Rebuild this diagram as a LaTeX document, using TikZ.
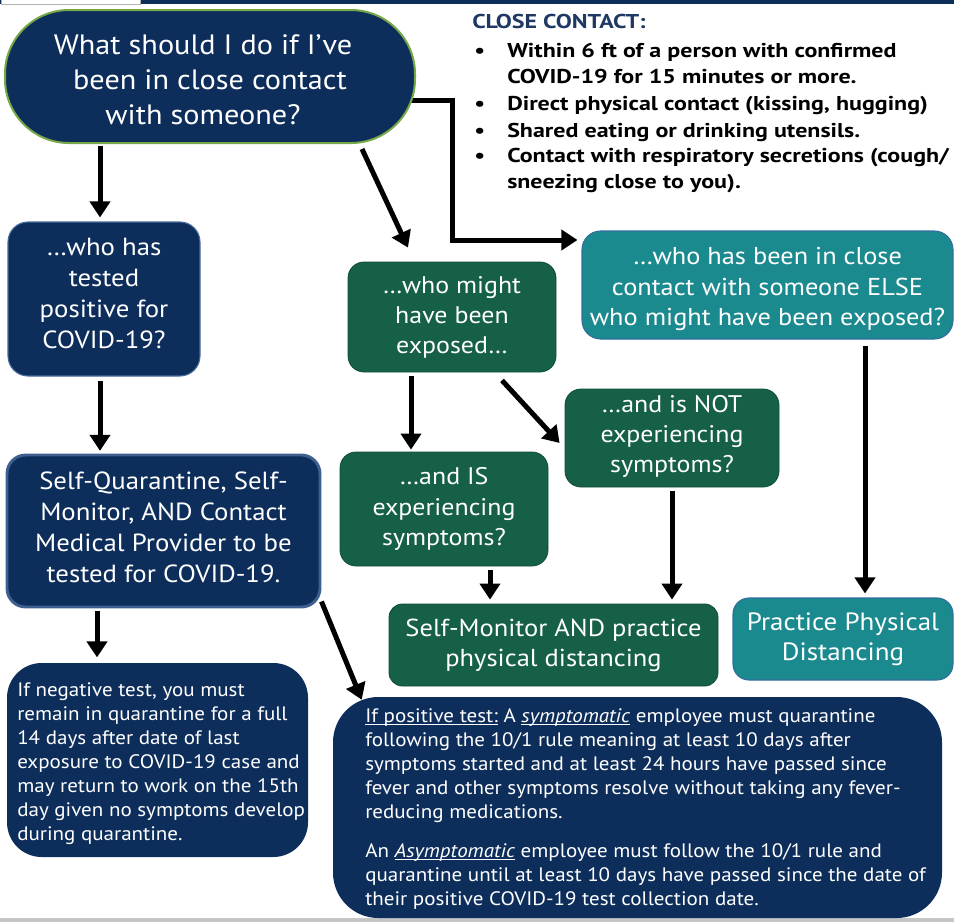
\documentclass[tikz,border=0pt]{standalone}
\usepackage{fontspec}
\setmainfont[FakeStretch=1.08]{PT Sans}
\newfontfamily\ccfont[FakeStretch=1.2]{PT Sans}
\usetikzlibrary{arrows.meta,calc}
\definecolor{navy}{HTML}{0D2E5B}
\definecolor{dgreen}{HTML}{156047}
\definecolor{tealb}{HTML}{1B8A8F}
\definecolor{ttl}{HTML}{1F3864}
\definecolor{lgreen}{HTML}{76A84A}
\definecolor{edgeblue}{HTML}{4A6C9E}
\definecolor{tealedge}{HTML}{2F6E9E}
\newcommand{\myul}[1]{\setbox0\hbox{#1}\rlap{\rule[-2.2pt]{\wd0}{0.6pt}}\box0\relax}
\pgfdeclarelayer{bg}
\pgfsetlayers{bg,main}
\begin{document}
\begin{tikzpicture}[x=0.75pt,y=-0.75pt,
  box/.style={inner sep=0pt, align=center, text=white},
  navybox/.style={box, fill=navy},
  greenbox/.style={box, fill=dgreen, draw=dgreen!80!black, line width=0.6pt},
  tealbox/.style={box, fill=tealb, draw=tealedge, line width=0.8pt},
  arr/.style={line width=3.75pt, line join=miter, -{Triangle[length=12pt,width=15pt]}},
  cct/.style={inner sep=0pt, anchor=base west, font=\ccfont\fontsize{15pt}{18pt}\selectfont\bfseries},
  wtext/.style={inner sep=0pt, anchor=north west, align=left, text=white}
]
\useasboundingbox (0,0) rectangle (954,922);
% top strip and bottom bar
\fill[navy] (0,0) rectangle (954,4);
\filldraw[fill=white, draw=gray!60, line width=0.5pt] (1,-1) rectangle (140,4);
\fill[gray!45] (0,918) rectangle (954,922);

% nodes
\node[navybox, draw=lgreen, line width=1.5pt, minimum width=307.5pt, minimum height=99.75pt, rounded corners=48pt,
      font=\fontsize{21pt}{26.25pt}\selectfont] (top) at (210,76.5)
  {\rule{0pt}{20pt}What should I do if I’ve\hspace*{10.5pt}\\been in close contact\hspace*{10.5pt}\\with someone?\hspace*{10.5pt}};

\node[navybox, draw=edgeblue, line width=0.8pt, minimum width=144pt, minimum height=115.5pt, rounded corners=15pt,
      font=\fontsize{18.6pt}{23.25pt}\selectfont] (tested) at (104,299)
  {…who has\\tested\\positive for\\COVID-19?\rule[-9pt]{0pt}{1pt}};

\node[navybox, draw=edgeblue!80!navy, line width=2.2pt, minimum width=234.75pt, minimum height=114pt, rounded corners=14pt,
      font=\fontsize{18.6pt}{23.25pt}\selectfont] (selfq) at (163.5,531)
  {Self-Quarantine, Self-\\Monitor, AND Contact\\Medical Provider to be\\tested for COVID-19.\rule[-6pt]{0pt}{1pt}};

\node[navybox, minimum width=225.75pt, minimum height=145.5pt, rounded corners=26pt] (negative) at (157.5,760) {};
\node[wtext, font=\fontsize{14.6pt}{18pt}\selectfont] (negtext) at (17,682)
  {If negative test, you must\\remain in quarantine for a full\\14 days after date of last\\exposure to COVID-19 case and\\may return to work on the 15th\\day given no symptoms develop\\during quarantine.};

\node[navybox, minimum width=456.75pt, minimum height=165.75pt, rounded corners=34pt] (positive) at (637.5,807.5) {};
\node[wtext, font=\fontsize{14.6pt}{18pt}\selectfont] (postext) at (365,708)
  {\myul{If positive test:} A \myul{\textit{symptomatic}} employee must quarantine\\
   following the 10/1 rule meaning at least 10 days after\\
   symptoms started and at least 24 hours have passed since\\
   fever and other symptoms resolve without taking any fever-\\
   reducing medications.\\[11.25pt]
   An \myul{\textit{Asymptomatic}} employee must follow the 10/1 rule and\\
   quarantine until at least 10 days have passed since the date of\\
   their positive COVID-19 test collection date.};

\node[greenbox, minimum width=156pt, minimum height=82.5pt, rounded corners=12pt,
      font=\fontsize{18pt}{22.5pt}\selectfont] (might) at (452,317)
  {…who might\\have been\\exposed…};

\node[greenbox, minimum width=156pt, minimum height=85.5pt, rounded corners=12pt,
      font=\fontsize{18pt}{22.9pt}\selectfont] (IS) at (444,509)
  {…and IS\\experiencing\\symptoms?};

\node[greenbox, minimum width=160.5pt, minimum height=73.5pt, rounded corners=12pt,
      font=\fontsize{18pt}{22.5pt}\selectfont] (NOT) at (672,438)
  {…and is NOT\\experiencing\\symptoms?\rule[-6pt]{0pt}{1pt}};

\node[greenbox, minimum width=246.75pt, minimum height=61.5pt, rounded corners=10pt,
      font=\fontsize{18.4pt}{22.5pt}\selectfont] (selfmon) at (553.5,645)
  {Self-Monitor AND practice\\physical distancing};

\node[tealbox, minimum width=278.25pt, minimum height=81pt, rounded corners=14pt,
      font=\fontsize{18.3pt}{22.9pt}\selectfont] (else) at (767.5,285)
  {\rule{0pt}{19pt}…who has been in close\\contact with someone ELSE\\who might have been exposed?};

\node[tealbox, minimum width=165pt, minimum height=61.5pt, rounded corners=12pt,
      font=\fontsize{18.75pt}{22.5pt}\selectfont] (practice) at (843,639)
  {Practice Physical\\Distancing};

% close contact text
\node[cct, text=ttl] (cctitle) at (472,28) {CLOSE CONTACT:};
\node[cct] (b1) at (474,57) {•};
\node[cct] (t1) at (507,57) {Within 6 ft of a person with confirmed};
\node[cct] (t1b) at (507,83) {COVID-19 for 15 minutes or more.};
\node[cct] (b2) at (474,110) {•};
\node[cct] (t2) at (507,110) {Direct physical contact (kissing, hugging)};
\node[cct] (b3) at (474,137) {•};
\node[cct] (t3) at (507,137) {Shared eating or drinking utensils.};
\node[cct] (b4) at (474,162) {•};
\node[cct] (t4) at (507,162) {Contact with respiratory secretions (cough/};
\node[cct] (t4b) at (507,188) {sneezing close to you).};

% connectors
\begin{pgfonlayer}{bg}
\draw[arr, shorten <=1.5pt, shorten >=3pt] (top.south -| 100,0) -- (tested.north -| 100,0);
\draw[arr] ($(top.south -| 362,0)+(0,5)$) -- ($(might.north -| 414,0)+(-6,-14)$);
\draw[arr, shorten >=3pt] ($(top.east |- 0,100)+(-6,0)$) -| (452,240) -- (else.west |- 0,240);
\draw[arr, shorten <=3pt, shorten >=2pt] (tested.south -| 100,0) -- (selfq.north -| 100,0);
\draw[arr, shorten <=2pt, shorten >=4pt] (selfq.south -| 97,0) -- (negative.north -| 97,0);
\draw[arr] ($(selfq.south east)+(0,-7)$) -- ($(positive.north west)+(29,3)$);
\draw[arr, shorten <=3pt, shorten >=1.5pt] (might.south -| 411,0) -- (IS.north -| 411,0);
\draw[arr] ($(might.south)+(50,8)$) -- ($(NOT.west)+(-5,5)$);
\draw[arr, shorten <=3pt, shorten >=3pt] (IS.south -| 490,0) -- (selfmon.north -| 490,0);
\draw[arr, shorten <=3pt, shorten >=3pt] (NOT.south) -- (NOT.south |- selfmon.north);
\draw[arr, shorten <=4.5pt, shorten >=3pt] (else.south -| 865,0) -- (practice.north -| 865,0);
\end{pgfonlayer}
\end{tikzpicture}
\end{document}
